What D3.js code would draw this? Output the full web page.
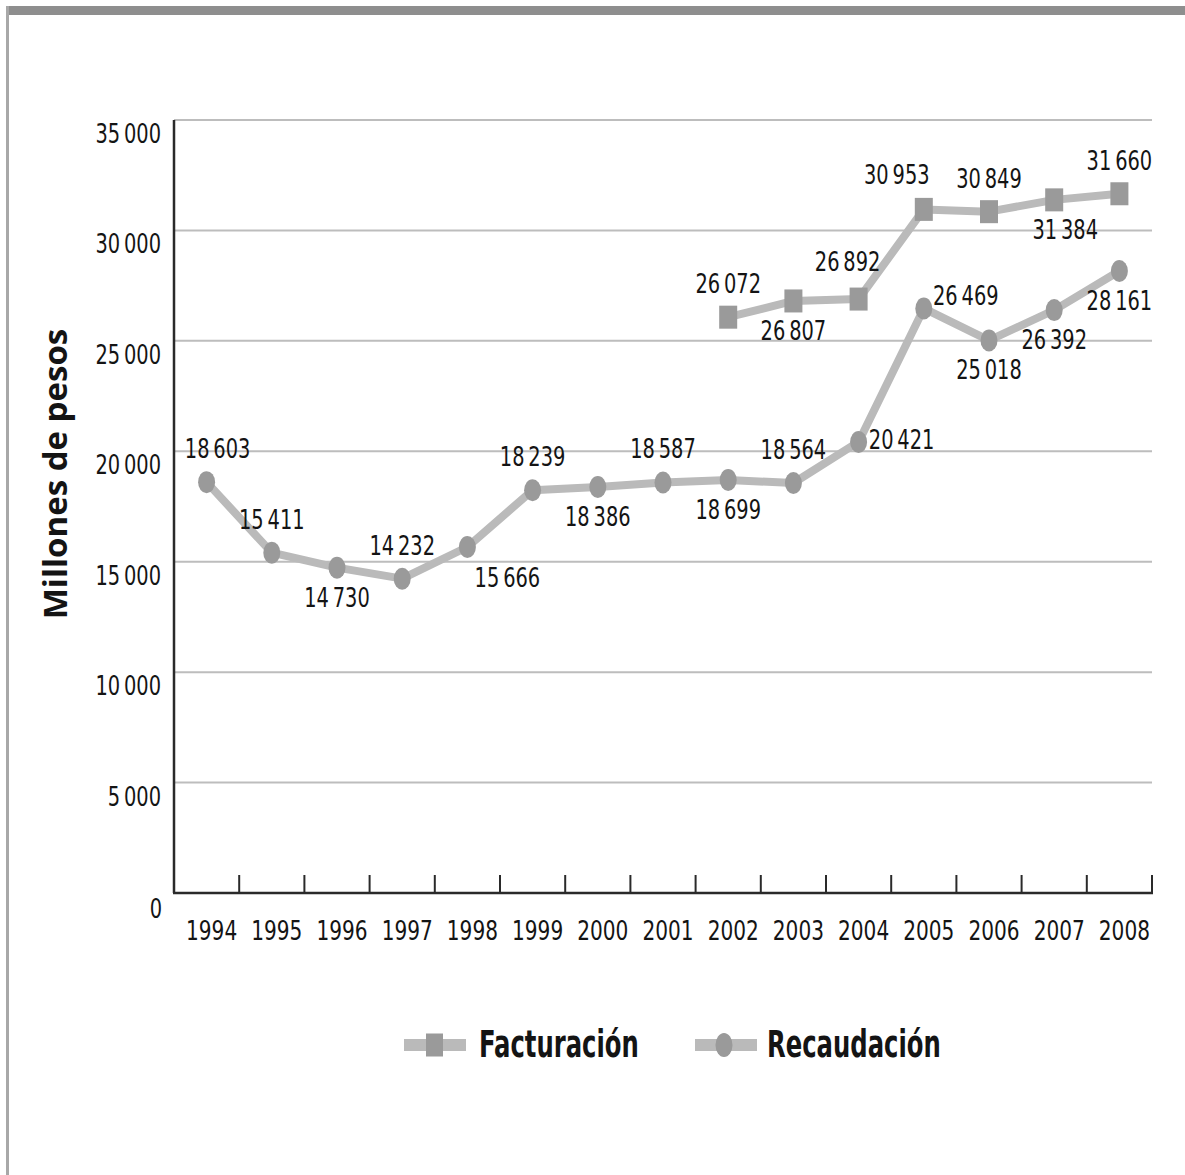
<!DOCTYPE html>
<html>
<head>
<meta charset="utf-8">
<script src="https://cdn.jsdelivr.net/npm/d3@7/dist/d3.min.js"></script>
<style>
  html, body { margin: 0; padding: 0; background: #fff; }
  svg { display: block; }
  text { font-family: "DejaVu Sans Condensed", "DejaVu Sans", sans-serif; font-stretch: condensed; fill: #141414; }
</style>
</head>
<body>
<svg id="chart" width="1185" height="1175"></svg>
<script>
// Years on the horizontal axis
const years = ["1994","1995","1996","1997","1998","1999","2000","2001","2002","2003","2004","2005","2006","2007","2008"];

// Billing (Facturación), reported from 2002 onwards
const factYears = ["2002","2003","2004","2005","2006","2007","2008"];
const facturacion = [26072, 26807, 26892, 30953, 30849, 31384, 31660];

// Collection (Recaudación), 1994-2008
const recaudacion = [18603, 15411, 14730, 14232, 15666, 18239, 18386, 18587, 18699, 18564, 20421, 26469, 25018, 26392, 28161];

// Y axis ticks
const yTicks = [0, 5000, 10000, 15000, 20000, 25000, 30000, 35000];

// Where each value label sits relative to its marker
const factLabelPlace = ["n", "s", "nw", "nw2", "n", "se", "n"];
const recLabelPlace = ["ne", "n", "s", "n", "se2", "n", "s", "n", "s", "n", "e", "e2", "s", "s", "s"];
const placeOffsets = {
  n: [0, -33], s: [0, 30], ne: [11, -33], nw: [-11, -37], nw2: [-27, -34],
  se: [11, 30], se2: [40, 31], e: [43, -2], e2: [42, -12]
};

const fmt = v => {
  const s = String(v);
  return s.slice(0, s.length - 3) + "\u202F" + s.slice(-3);
};

const svg = d3.select("#chart");

// narrow text: place at (px, py) and squeeze horizontally
function narrowText(parent, px, py, str, size, anchor, sx) {
  return parent.append("text")
    .attr("transform", `translate(${px},${py}) scale(${sx},1)`)
    .attr("text-anchor", anchor)
    .attr("font-size", size)
    .text(str);
}

// page frame
svg.append("rect").attr("x", 6).attr("y", 6).attr("width", 1179).attr("height", 9).attr("fill", "#8e8e8e");
svg.append("rect").attr("x", 6).attr("y", 6).attr("width", 3).attr("height", 1169).attr("fill", "#a8a8a8");

const plotLeft = 174, plotRight = 1152, plotTop = 120, plotBottom = 893;

const x = d3.scaleBand().domain(years).range([plotLeft, plotRight]).padding(0);
const y = d3.scaleLinear().domain([0, 35000]).range([plotBottom, plotTop]);
const cx = yr => x(yr) + x.bandwidth() / 2;

// horizontal gridlines
svg.append("g").selectAll("line")
  .data(yTicks.filter(t => t > 0))
  .join("line")
  .attr("x1", plotLeft).attr("x2", plotRight)
  .attr("y1", d => y(d)).attr("y2", d => y(d))
  .attr("stroke", "#bdbdbd").attr("stroke-width", 2);

// y tick labels
const yLab = svg.append("g");
yTicks.forEach(t => {
  narrowText(yLab, t === 0 ? 162 : 161, y(t) + (t === 0 ? 25 : 23), t === 0 ? "0" : fmt(t), 26, "end", 0.83);
});

// axis lines
svg.append("line").attr("x1", plotLeft).attr("x2", plotLeft).attr("y1", plotTop).attr("y2", plotBottom)
  .attr("stroke", "#2a2a2a").attr("stroke-width", 2.5);
svg.append("line").attr("x1", plotLeft - 1).attr("x2", plotRight + 1).attr("y1", plotBottom).attr("y2", plotBottom)
  .attr("stroke", "#2a2a2a").attr("stroke-width", 2.5);

// x ticks between year bands
svg.append("g").selectAll("line")
  .data(years)
  .join("line")
  .attr("x1", d => x(d) + x.bandwidth()).attr("x2", d => x(d) + x.bandwidth())
  .attr("y1", plotBottom).attr("y2", plotBottom - 18)
  .attr("stroke", "#2a2a2a").attr("stroke-width", 2);

// year labels
const xLab = svg.append("g");
years.forEach(yr => narrowText(xLab, cx(yr) + 5, plotBottom + 47, yr, 26, "middle", 0.86));

// y axis title
svg.append("text")
  .attr("transform", `translate(67,474) rotate(-90)`)
  .attr("text-anchor", "middle")
  .attr("font-size", 33)
  .attr("font-weight", "bold")
  .style("font-family", "'Open Sans', 'DejaVu Sans', sans-serif")
  .style("font-stretch", "normal")
  .text("Millones de pesos");

const lineColor = "#bababa", markColor = "#9a9a9a";

const line = d3.line().x(d => cx(d.year)).y(d => y(d.value));

const recData = years.map((yr, i) => ({ year: yr, value: recaudacion[i], place: recLabelPlace[i] }));
const factData = factYears.map((yr, i) => ({ year: yr, value: facturacion[i], place: factLabelPlace[i] }));

// Recaudación line and markers
svg.append("path").datum(recData).attr("d", line)
  .attr("fill", "none").attr("stroke", lineColor).attr("stroke-width", 8).attr("stroke-linejoin", "round");
svg.append("g").selectAll("ellipse").data(recData).join("ellipse")
  .attr("cx", d => cx(d.year)).attr("cy", d => y(d.value))
  .attr("rx", 8.5).attr("ry", 11).attr("fill", markColor);

// Facturación line and markers
svg.append("path").datum(factData).attr("d", line)
  .attr("fill", "none").attr("stroke", lineColor).attr("stroke-width", 8).attr("stroke-linejoin", "round");
svg.append("g").selectAll("rect").data(factData).join("rect")
  .attr("x", d => cx(d.year) - 9).attr("y", d => y(d.value) - 11.5)
  .attr("width", 18).attr("height", 23).attr("fill", markColor);

// value labels
const labelLayer = svg.append("g");
[...recData, ...factData].forEach(d => {
  const off = placeOffsets[d.place];
  narrowText(labelLayer, cx(d.year) + off[0], y(d.value) + off[1] + 9, fmt(d.value), 26, "middle", 0.83);
});

// legend
const legend = svg.append("g");
const legY = 1045;
const items = [
  { name: "Facturación", x0: 404, shape: "square", tx: 479 },
  { name: "Recaudación", x0: 695, shape: "circle", tx: 767 }
];
items.forEach(it => {
  legend.append("line").attr("x1", it.x0).attr("x2", it.x0 + 62).attr("y1", legY).attr("y2", legY)
    .attr("stroke", lineColor).attr("stroke-width", 12);
  if (it.shape === "square") {
    legend.append("rect").attr("x", it.x0 + 22).attr("y", legY - 11.5).attr("width", 17).attr("height", 23).attr("fill", markColor);
  } else {
    legend.append("ellipse").attr("cx", it.x0 + 29).attr("cy", legY).attr("rx", 8.5).attr("ry", 12).attr("fill", markColor);
  }
  narrowText(legend, it.tx, legY + 12, it.name, 37, "start", 0.73)
    .attr("font-weight", "bold");
});
</script>
</body>
</html>
